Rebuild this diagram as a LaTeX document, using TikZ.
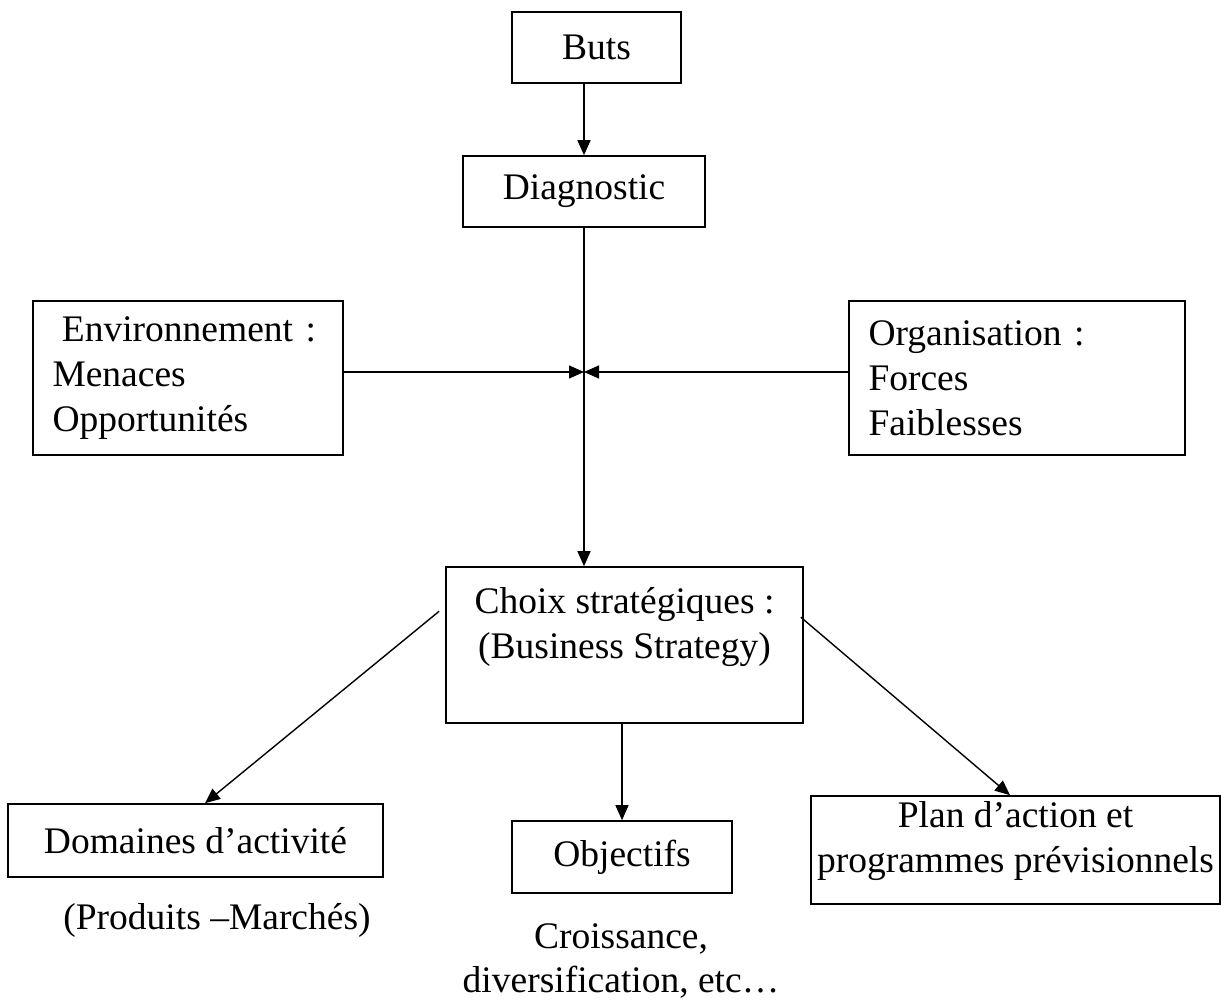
\documentclass[tikz,border=0pt]{standalone}
\usepackage{fontspec}
\setmainfont{Liberation Serif}
\usetikzlibrary{arrows.meta,calc}
\begin{document}
\begin{tikzpicture}[x=1pt,y=-1pt,
  txt/.style={font=\fontsize{37.5}{45}\selectfont},
  box/.style={txt,draw,line width=1.6pt,inner sep=0pt,align=center},
  listbox/.style={box,align=left,inner xsep=19.5pt},
  plain/.style={txt,inner sep=0pt,align=center},
  link/.style={line width=1.4pt,-{Triangle[length=15pt,width=13pt]}}
]
\useasboundingbox (0,0) rectangle (1221,1001);

% boxes
\node[box,minimum width=169pt,minimum height=71pt] (buts) at (596.5,47.5) {Buts};
\node[box,minimum width=242pt,minimum height=71pt] (diag) at (584,191.5) {Diagnostic};
\node[listbox,text width=271pt,minimum height=154pt] (env) at (188,378)
  {\hspace*{0.25em}Environnement :\\Menaces\\Opportunités};
\node[listbox,text width=297pt,minimum height=154pt] (org) at (1017,378)
  {Organisation :\\Forces\\Faiblesses};
\node[box,minimum width=357pt,minimum height=156pt] (choix) at (624.5,645)
  {Choix stratégiques :\\(Business Strategy)\\~};
\node[box,minimum width=375pt,minimum height=73pt] (dom) at (195.5,840.5) {Domaines d’activité};
\node[box,minimum width=220pt,minimum height=72pt] (obj) at (622,857) {Objectifs};
\node[box,minimum width=409pt,minimum height=108pt] (plan) at (1015.5,850) {};
\node[plain] (plantxt) at ($(plan.center)+(0,-9)$)
  {Plan d’action et\\programmes prévisionnels};

% free captions
\node[plain] (prod) at (217,920) {(Produits –Marchés)};
\node[plain,font=\fontsize{37.5}{44}\selectfont] (crois) at (621,961)
  {Croissance,\\diversification, etc…};

% connectors
\coordinate (meet) at (584,372);
\draw[link] (buts.south -| diag.north) -- (diag.north);
\draw[link] (diag.south) -- (choix.north -| diag.south);
\draw[link] (env.east |- meet) -- (meet);
\draw[link] (org.west |- meet) -- (meet);
\draw[link] ($(choix.north west)+(-6,45)$) -- ($(dom.north)+(9.5,0)$);
\draw[link] ($(choix.north east)+(-3,51)$) -- ($(plan.north)+(-5.5,0)$);
\draw[link] (choix.south -| obj.north) -- (obj.north);
\end{tikzpicture}
\end{document}
